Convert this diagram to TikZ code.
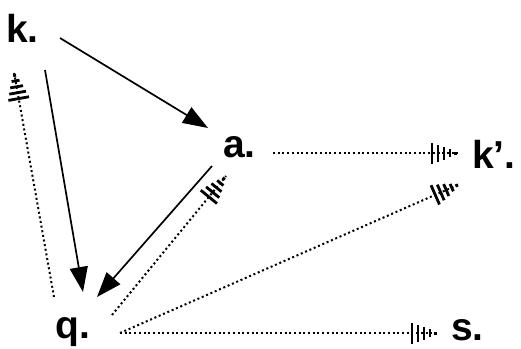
\documentclass[tikz,border=0pt]{standalone}
\usepackage{fontspec}
\setmainfont{Liberation Sans}
\usetikzlibrary{arrows.meta,decorations.markings}
\begin{document}
\begin{tikzpicture}[x=1pt,y=-1pt,
  lbl/.style={font=\fontsize{39}{39}\selectfont\bfseries, inner sep=0pt, anchor=base west},
  solidarrow/.style={line width=1.7pt, -{Triangle[length=25pt,width=18pt]}},
  hatchhead/.style={postaction={decorate}, decoration={markings,
      mark=at position 1 with {
        \draw[solid, line width=2.8pt]
          (-27pt,-10.5pt) -- (-27pt,10.5pt)
          (-21pt,-8.5pt) -- (-21pt,8.5pt)
          (-15pt,-6.5pt) -- (-15pt,6.5pt)
          (-9pt,-4pt) -- (-9pt,4pt)
          (-3.5pt,-1.5pt) -- (-3.5pt,1.5pt);
      }}},
  dotarrow/.style={line width=2pt, dash pattern=on 2pt off 2.7pt, hatchhead}
]
\useasboundingbox[fill=white] (0,0) rectangle (521,348);

% labels
\node[lbl] (k)  at (6,42)    {k.};
\node[lbl] (a)  at (223,157) {a.};
\node[lbl] (kp) at (472,168) {k’.};
\node[lbl] (q)  at (55,338)  {q.};
\node[lbl] (s)  at (451,340) {s.};

% connector end points
\coordinate (k-a)  at (60,38);
\coordinate (a-k)  at (208,128);
\coordinate (k-q)  at (45,70);
\coordinate (q-k)  at (83,292);
\coordinate (q-kd) at (54,297);
\coordinate (k-qd) at (14,72);
\coordinate (a-q)  at (212,166);
\coordinate (q-a)  at (97,297);
\coordinate (q-ad) at (112,315);
\coordinate (a-qd) at (226,176);
\coordinate (a-kp) at (273,153);
\coordinate (kp-a) at (459,153);
\coordinate (q-out) at (120,333);
\coordinate (kp-q) at (460,184);
\coordinate (s-q)  at (439,333);

% solid arrows
\draw[solidarrow] (k-a) -- (a-k);
\draw[solidarrow] (k-q) -- (q-k);
\draw[solidarrow] (a-q) -- (q-a);

% dotted arrows
\draw[dotarrow] (q-kd) -- (k-qd);
\draw[dotarrow] (q-ad) -- (a-qd);
\draw[dotarrow] (a-kp) -- (kp-a);
\draw[dotarrow] (q-out) -- (kp-q);
\draw[dotarrow] (q-out) -- (s-q);
\end{tikzpicture}
\end{document}
